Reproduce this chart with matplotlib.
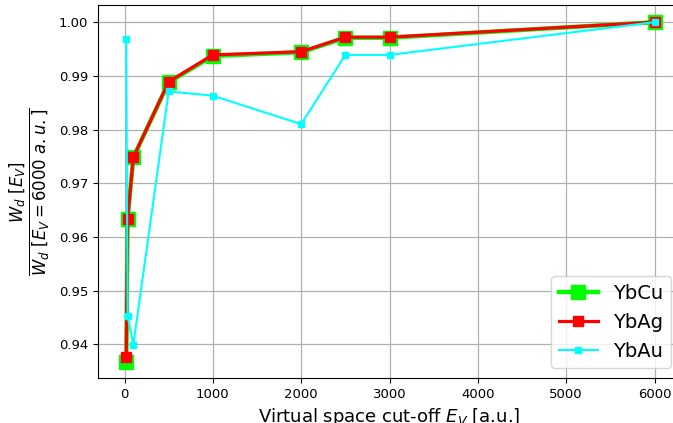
import matplotlib
matplotlib.use("Agg")
import matplotlib.pyplot as plt

# Virtual-space cut-off values (a.u.)
cutoff = [20, 35, 100, 500, 1000, 2000, 2500, 3000, 6000]

# Normalised W_d for each compound
ybcu = [0.9367, 0.9633, 0.9748, 0.9888, 0.9937, 0.9944, 0.9971, 0.9971, 1.0000]
ybag = [0.9376, 0.9634, 0.9748, 0.9889, 0.9939, 0.9945, 0.9972, 0.9972, 1.0000]
ybau = [0.9969, 0.9453, 0.9399, 0.9871, 0.9863, 0.9810, 0.9939, 0.9939, 1.0000]

xticks = [0, 1000, 2000, 3000, 4000, 5000, 6000]
yticks = [0.94, 0.95, 0.96, 0.97, 0.98, 0.99, 1.00]

fig = plt.figure(figsize=(6.73, 4.23), dpi=100)
ax = fig.add_axes([98 / 673, 45 / 423, 583 / 673, 373 / 423])

ax.plot(cutoff, ybcu, color="#00ff00", marker="s", lw=3.2, ms=10, label="YbCu", zorder=3)
ax.plot(cutoff, ybag, color="#ff0000", marker="s", lw=2.3, ms=7.5, label="YbAg", zorder=4)
ax.plot(cutoff, ybau, color="#00ffff", marker="s", lw=1.5, ms=5, label="YbAu", zorder=5)

ax.set_xlim(-300, 6300)
ax.set_ylim(0.9337, 1.0032)
ax.set_xticks(xticks)
ax.set_yticks(yticks)
ax.yaxis.set_major_formatter(matplotlib.ticker.FormatStrFormatter("%.2f"))
ax.tick_params(labelsize=9.5)
ax.grid(True, color="#b0b0b0", lw=0.9)
ax.set_axisbelow(True)

ax.set_xlabel(r"Virtual space cut-off $E_V$ [a.u.]", fontsize=13)
ax.set_ylabel(r"$\frac{W_d\ [E_V]}{W_d\ [E_V = 6000\ a.u.]}$", fontsize=17)

ax.legend(loc="lower right", fontsize=14)

fig.savefig("out.png", dpi=100)
